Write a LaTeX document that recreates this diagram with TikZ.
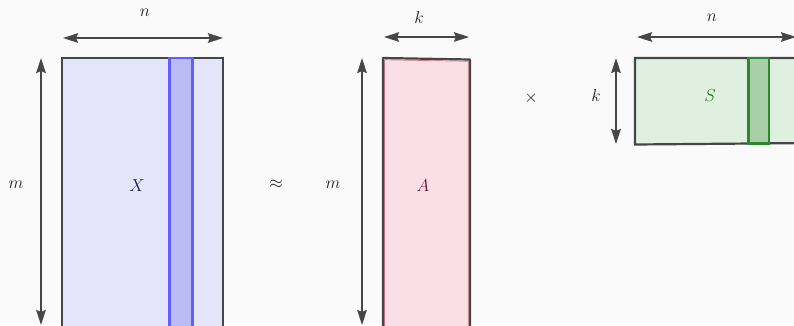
\documentclass[tikz,border=0pt]{standalone}
\usetikzlibrary{arrows.meta}
\definecolor{bg}{RGB}{250,250,250}
\definecolor{frame}{RGB}{70,70,70}
\definecolor{xfill}{RGB}{228,228,250}
\definecolor{xcol}{RGB}{187,187,248}
\definecolor{xcolb}{RGB}{95,95,250}
\definecolor{afill}{RGB}{250,224,230}
\definecolor{aedge}{RGB}{200,120,140}
\definecolor{sfill}{RGB}{224,240,224}
\definecolor{scol}{RGB}{168,208,168}
\definecolor{scolb}{RGB}{45,135,45}
\definecolor{xtext}{RGB}{30,30,80}
\definecolor{atext}{RGB}{110,20,45}
\definecolor{stext}{RGB}{35,110,35}
\definecolor{lbl}{RGB}{30,30,30}
\tikzset{
  dimarrow/.style={draw=frame, line width=2.2pt, -{Stealth[length=15pt,width=9.5pt,inset=2pt]}},
  matframe/.style={draw=frame, line width=2.2pt},
  txt/.style={font=\fontsize{17.5}{20}\selectfont, inner sep=0pt, text=lbl},
}
\begin{document}
\begin{tikzpicture}[x=1pt,y=-1pt]
\useasboundingbox (0,0) rectangle (794,325);
\fill[bg] (0,0) rectangle (794,325);
\clip (0,0) rectangle (794,325);
% matrix X
\coordinate (X1) at (62,58); \coordinate (X2) at (223,340);
\filldraw[fill=xfill, matframe] (X1) rectangle (X2);
\coordinate (XC1) at (169.5,58); \coordinate (XC2) at (192.5,340);
\filldraw[fill=xcol, draw=xcolb, line width=2.4pt] (XC1) rectangle (XC2);
\node[txt, text=xtext] (Xl) at (137,186) {$X$};
% n over X
\coordinate (nXa) at (63,38); \coordinate (nXm) at (145,38); \coordinate (nXb) at (223,38);
\draw[dimarrow] (nXm) -- (nXa);
\draw[dimarrow] (nXm) -- (nXb);
\node[txt] (nX) at (145,13) {$n$};
% m left of X
\coordinate (mXa) at (41,58); \coordinate (mXm) at (41,185); \coordinate (mXb) at (41,325);
\draw[dimarrow] (mXm) -- (mXa);
\draw[dimarrow] (mXm) -- (mXb);
\node[txt] (mX) at (16,185) {$m$};
% approx
\node[txt] (approx) at (276,184) {$\approx$};
% matrix A
\coordinate (A1) at (383,58); \coordinate (A2) at (470,59.5);
\coordinate (A3) at (470,340); \coordinate (A4) at (383,340);
\fill[afill] (A1) -- (A2) -- (A3) -- (A4) -- cycle;
\draw[aedge, line width=0.7pt] ([shift={(1.8,1.8)}]A1) -- ([shift={(-1.8,1.8)}]A2) -- ([shift={(-1.8,0)}]A3);
\draw[aedge, line width=0.7pt] ([shift={(1.8,1.8)}]A1) -- ([shift={(1.8,0)}]A4);
\draw[matframe, line join=round] (A4) -- (A1) -- (A2) -- (A3);
\node[txt, text=atext] (Al) at (423,186) {$A$};
% k over A
\coordinate (kAa) at (384,37); \coordinate (kAm) at (410,37); \coordinate (kAb) at (469,37);
\draw[dimarrow] (kAm) -- (kAa);
\draw[dimarrow] (kAm) -- (kAb);
\node[txt] (kA) at (419,17) {$k$};
% m left of A
\coordinate (mAa) at (362,58); \coordinate (mAm) at (362,185); \coordinate (mAb) at (362,325);
\draw[dimarrow] (mAm) -- (mAa);
\draw[dimarrow] (mAm) -- (mAb);
\node[txt] (mA) at (333,185) {$m$};
% times
\node[txt] (times) at (531,98) {$\times$};
% matrix S
\coordinate (S1) at (635,58); \coordinate (S2) at (810,58);
\coordinate (S3) at (810,143); \coordinate (S4) at (635,144.5);
\filldraw[fill=sfill, matframe] (S1) -- (S2) -- (S3) -- (S4) -- cycle;
\coordinate (SC1) at (748.5,58); \coordinate (SC2) at (769,143.3);
\filldraw[fill=scol, draw=scolb, line width=2.4pt] (SC1) rectangle (SC2);
\node[txt, text=stext] (Sl) at (710,96) {$S$};
% n over S
\coordinate (nSa) at (637,37); \coordinate (nSm) at (704,37); \coordinate (nSb) at (796,37);
\draw[dimarrow] (nSm) -- (nSa);
\draw[dimarrow] (nSm) -- (nSb);
\node[txt] (nS) at (712,18) {$n$};
% k left of S
\coordinate (kSa) at (616,58); \coordinate (kSm) at (616,111); \coordinate (kSb) at (616,144);
\draw[dimarrow] (kSm) -- (kSa);
\draw[dimarrow] (kSm) -- (kSb);
\node[txt] (kS) at (596,95) {$k$};
\end{tikzpicture}
\end{document}
